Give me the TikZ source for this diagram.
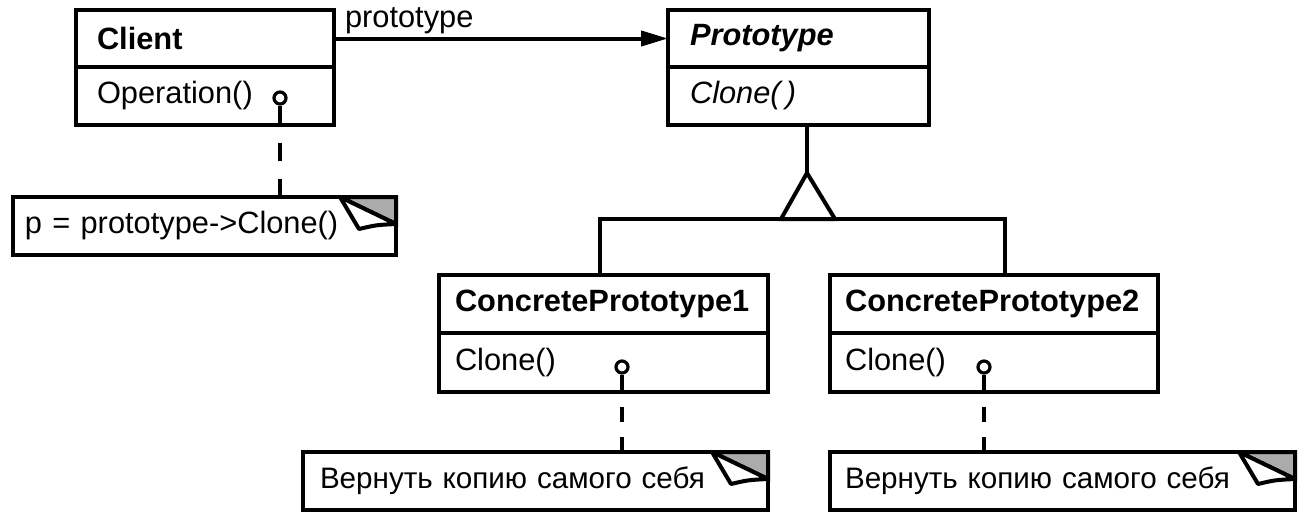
\documentclass[tikz,border=0pt]{standalone}
\usepackage{fontspec}
\setmainfont{Liberation Sans}
\usetikzlibrary{calc}
\usetikzlibrary{arrows.meta}
\definecolor{foldgray}{gray}{0.67}

\tikzset{
	box/.style={draw, line width=2pt, anchor=north west, outer sep=0pt, align=left, fill=white,
		font=\fontsize{15.4}{18}\selectfont},
	dot/.style={draw, circle, line width=1.6pt, fill=white, inner sep=0pt, minimum size=6pt},
	link/.style={line width=2pt},
}

\begin{document}
\begin{tikzpicture}[x=0.5pt,y=-0.5pt]
	\useasboundingbox (0,0) rectangle (1305,521);
	
	% classes
	\node[box, inner xsep=10.5pt, text width=108pt, minimum height=28.5pt] (client) at (76,10) {\textbf{Client}};
	\node[box, inner xsep=10.5pt, text width=108pt, minimum height=29pt] (clientops) at (76,67) {Operation()};
	
	\node[box, inner xsep=11pt, text width=108.5pt, minimum height=28.5pt] (proto) at (668,10) {\textbf{\textit{Prototype}}};
	\node[box, inner xsep=11pt, text width=108.5pt, minimum height=29pt] (protoops) at (668,67) {\textit{Clone(\,)}};
	
	\node[box, inner xsep=8pt, text width=148.5pt, minimum height=29pt] (cp1) at (439,275) {\textbf{ConcretePrototype1}};
	\node[box, inner xsep=8pt, text width=148.5pt, minimum height=29.5pt] (cp1ops) at (439,333) {Clone()};
	
	\node[box, inner xsep=7.5pt, text width=149pt, minimum height=29pt] (cp2) at (830,275) {\textbf{ConcretePrototype2}};
	\node[box, inner xsep=7.5pt, text width=149pt, minimum height=29.5pt] (cp2ops) at (830,333) {Clone()};
	
	% notes
	\node[box, inner xsep=6pt, text width=179.5pt, minimum height=29pt] (note1) at (13,197) {p = prototype->Clone()};
	\node[box, inner xsep=8.5pt, text width=215.5pt, minimum height=29pt, font=\fontsize{14.8}{18}\selectfont] (note2) at (303,452) {Вернуть копию самого себя};
	\node[box, inner xsep=7.5pt, text width=217.5pt, minimum height=29pt, font=\fontsize{14.8}{18}\selectfont] (note3) at (830,452) {Вернуть копию самого себя};
	
	\foreach \n in {note1,note2,note3}{
		\filldraw[link, fill=foldgray] ($(\n.north east)+(-56,0)$) coordinate (fa) -- (\n.north east) -- ($(\n.north east)+(0,27)$) coordinate (fb) -- cycle;
		\filldraw[link, fill=white, line join=round] (fa) -- ($(\n.north east)+(-37,32)$) .. controls ($(\n.north east)+(-20,28)$) .. (fb) -- cycle;
	}
	
	% association
	\draw[link, -{Triangle[length=13.5pt,width=7.5pt]}] (client.east) -- (proto.west)
		node[pos=0, anchor=base west, inner sep=0pt, xshift=4.5pt, yshift=5.75pt, font=\fontsize{15.4}{18}\selectfont] (assoc) {prototype};
	
	% inheritance
	\coordinate (tip) at (807,173);
	\coordinate (bar1) at (600,219);
	\coordinate (bar2) at (1005,219);
	\draw[link] (tip |- protoops.south) -- (tip);
	\draw[link] (bar1 |- cp1.north) -- (bar1) -- (bar2) -- (bar2 |- cp2.north);
	\draw[link, fill=white] (tip) -- (781,219) -- (835,219) -- cycle;
	
	% note links
	\node[dot] (d1) at (280,98) {};
	\node[dot] (d2) at (622,367) {};
	\node[dot] (d3) at (984,367) {};
	
	\draw[link] (d1.south) -- (d1 |- clientops.south);
	\draw[link, dash pattern=on 9pt off 9pt, dash phase=9pt] (d1 |- clientops.south) -- (d1 |- note1.north);
	\draw[link] (d2.south) -- (d2 |- cp1ops.south);
	\draw[link, dash pattern=on 7.5pt off 7.5pt, dash phase=7.5pt] (d2 |- cp1ops.south) -- (d2 |- note2.north);
	\draw[link] (d3.south) -- (d3 |- cp2ops.south);
	\draw[link, dash pattern=on 7.5pt off 7.5pt, dash phase=7.5pt] (d3 |- cp2ops.south) -- (d3 |- note3.north);
\end{tikzpicture}
\end{document}
